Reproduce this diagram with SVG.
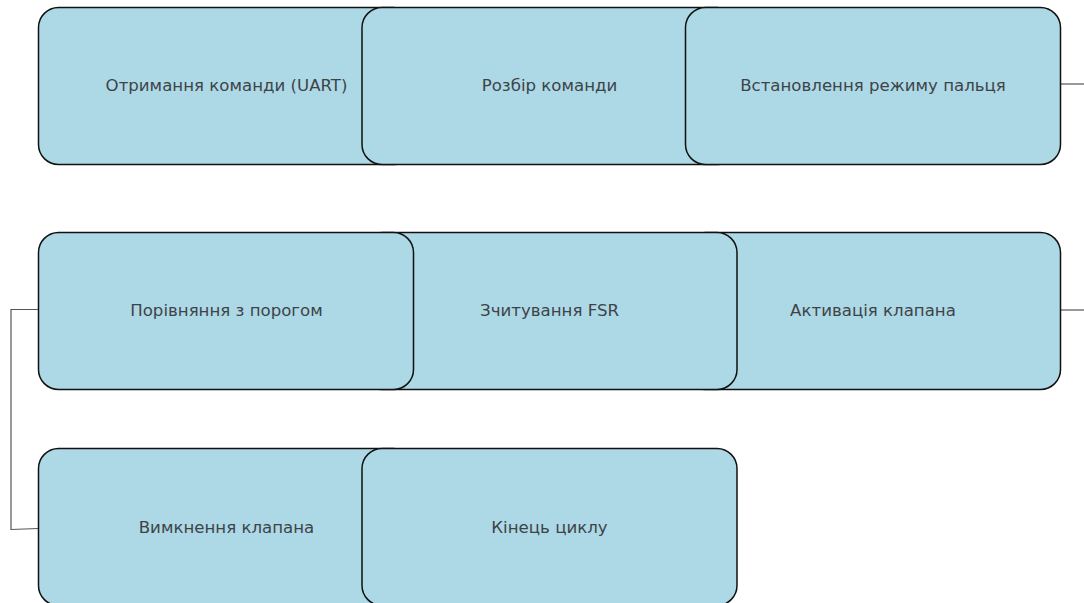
<svg xmlns="http://www.w3.org/2000/svg" width="1084" height="603" viewBox="0 0 1084 603">
<style>
.box{fill:#add8e6;stroke:#111;stroke-width:1.5}
.lbl{font-family:"DejaVu Sans",sans-serif;font-size:16.6px;fill:#3d4447;text-anchor:middle;dominant-baseline:central}
.conn{fill:none;stroke:#555;stroke-width:1.2}
</style>
<rect width="1084" height="603" fill="#fff"/>
<g id="connectors">
<path class="conn" d="M1060,84 H1084"/>
<path class="conn" d="M1060,310 H1084"/>
<path class="conn" d="M38.5,309.5 H11 V529.5 L38.5,528.5"/>
</g>
<g id="n1"><rect class="box" x="38.5" y="7.5" width="375" height="157" rx="20"/><text class="lbl" x="226.5" y="85">Отримання команди (UART)</text></g>
<g id="n2"><rect class="box" x="362" y="7.5" width="375" height="157" rx="20"/><text class="lbl" x="549.5" y="85">Розбір команди</text></g>
<g id="n3"><rect class="box" x="685.5" y="7.5" width="375" height="157" rx="20"/><text class="lbl" x="873" y="85">Встановлення режиму пальця</text></g>
<g id="n4"><rect class="box" x="685.5" y="232.5" width="375" height="157" rx="20"/><text class="lbl" x="873" y="310">Активація клапана</text></g>
<g id="n5"><rect class="box" x="362" y="232.5" width="375" height="157" rx="20"/><text class="lbl" x="549.5" y="310">Зчитування FSR</text></g>
<g id="n6"><rect class="box" x="38.5" y="232.5" width="375" height="157" rx="20"/><text class="lbl" x="226.5" y="310">Порівняння з порогом</text></g>
<g id="n7"><rect class="box" x="38.5" y="448.5" width="375" height="157" rx="20"/><text class="lbl" x="226.5" y="527">Вимкнення клапана</text></g>
<g id="n8"><rect class="box" x="362" y="448.5" width="375" height="157" rx="20"/><text class="lbl" x="549.5" y="527">Кінець циклу</text></g>
</svg>
